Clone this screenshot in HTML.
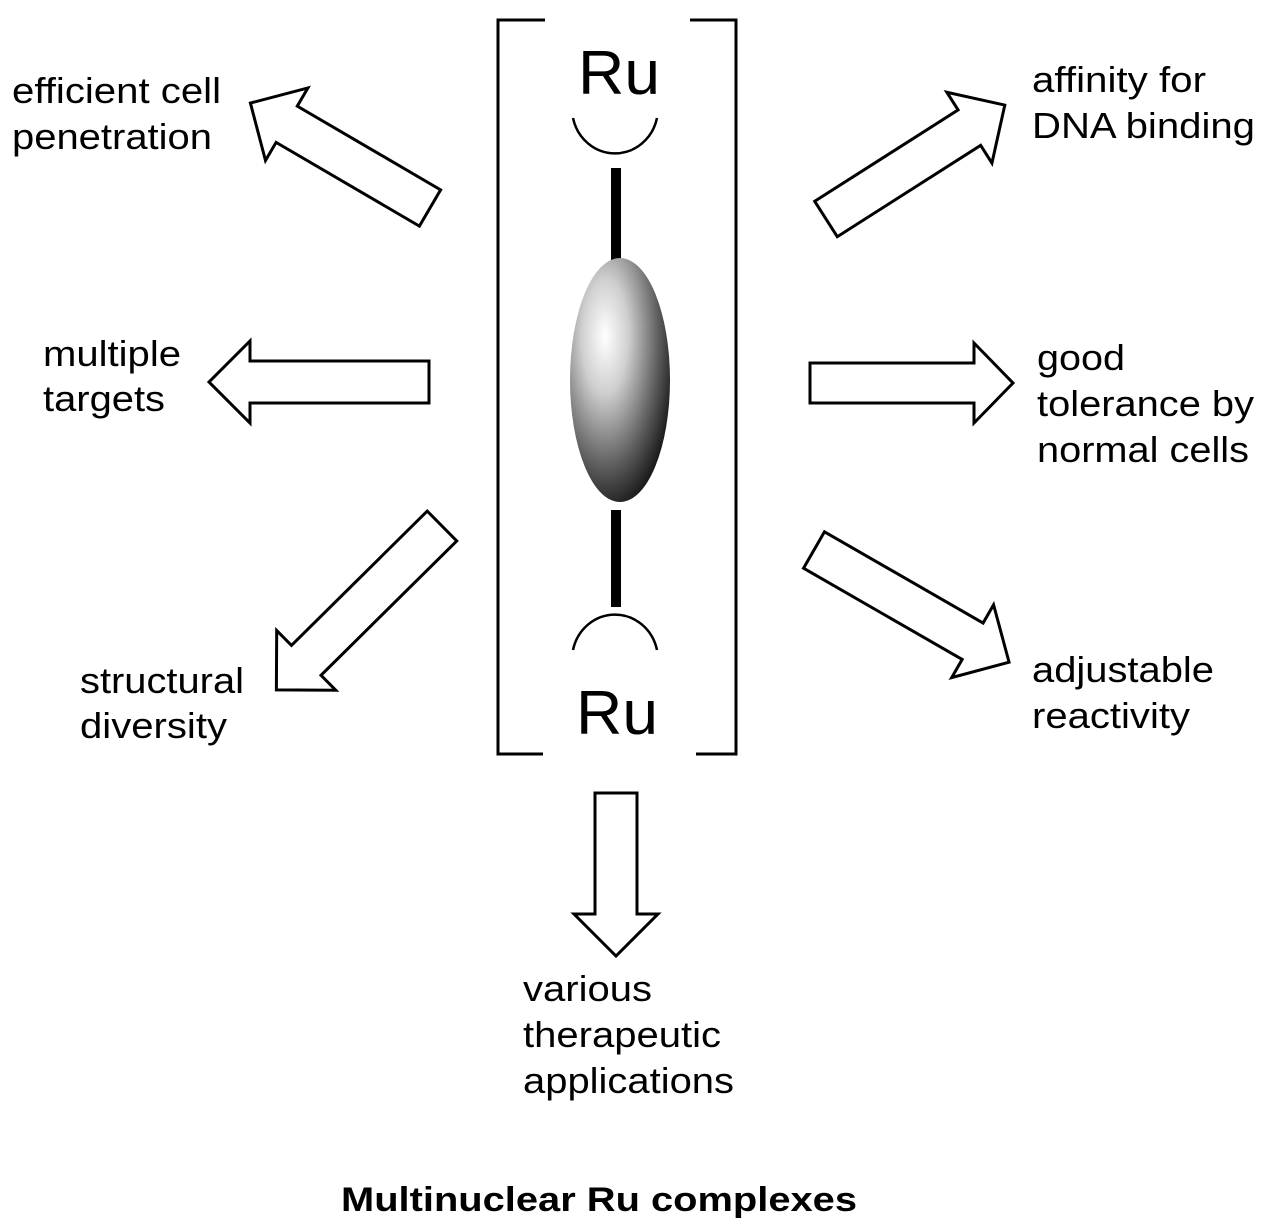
<!DOCTYPE html>
<html><head><meta charset="utf-8"><style>
html,body{margin:0;padding:0;background:#fff}
svg{display:block}
text{font-family:"Liberation Sans",Arial,sans-serif;fill:#000}
</style></head><body>
<svg width="1270" height="1228" viewBox="0 0 1270 1228" xmlns="http://www.w3.org/2000/svg">
<defs>
<radialGradient id="g" cx="0.35" cy="0.32" r="0.78">
<stop offset="0" stop-color="#ffffff"/>
<stop offset="0.3" stop-color="#cfcfcf"/>
<stop offset="0.7" stop-color="#5a5a5a"/>
<stop offset="1" stop-color="#080808"/>
</radialGradient>
</defs>
<g fill="none" stroke="#000" stroke-width="3">
<path d="M545,20 H498 V754 H543"/>
<path d="M690,20 H736 V754 H696"/>
</g>
<line x1="616" y1="168" x2="616" y2="268" stroke="#000" stroke-width="10"/>
<line x1="616" y1="510" x2="616" y2="607" stroke="#000" stroke-width="10"/>
<ellipse cx="620" cy="380" rx="50" ry="122" fill="url(#g)"/>
<path d="M573,118 A43,45 0 0 0 657,118" fill="none" stroke="#000" stroke-width="2.5"/>
<path d="M573,650 A43,45 0 0 1 657,650" fill="none" stroke="#000" stroke-width="2.5"/>
<text x="578" y="94" font-size="62" textLength="82" lengthAdjust="spacingAndGlyphs">Ru</text>
<text x="576" y="734" font-size="62" textLength="82" lengthAdjust="spacingAndGlyphs">Ru</text>
<g fill="#fff" stroke="#000" stroke-width="3" stroke-linejoin="miter">
<path transform="translate(430,208) rotate(210.3)" d="M0,-21 H166 V-42 L208,0 L166,42 V21 H0 Z"/>
<path transform="translate(429,382) rotate(180)" d="M0,-21 H179 V-41 L220,0 L179,41 V21 H0 Z"/>
<path transform="translate(442,526) rotate(135.3)" d="M0,-21 H191 V-42 L233,0 L191,42 V21 H0 Z"/>
<path transform="translate(616,793) rotate(90)" d="M0,-21 H121 V-42 L163,0 L121,42 V21 H0 Z"/>
<path transform="translate(814,550) rotate(29.9)" d="M0,-21 H183 V-42 L225,0 L183,42 V21 H0 Z"/>
<path transform="translate(810,383) rotate(0)" d="M0,-20 H164 V-40 L203,0 L164,40 V20 H0 Z"/>
<path transform="translate(826,219) rotate(-32.5)" d="M0,-21 H170 V-42 L212,0 L170,42 V21 H0 Z"/>
</g>
<g font-size="36" lengthAdjust="spacingAndGlyphs">
<text x="12" y="103" textLength="209" lengthAdjust="spacingAndGlyphs">efficient cell</text>
<text x="12" y="149" textLength="200" lengthAdjust="spacingAndGlyphs">penetration</text>
<text x="43" y="366" textLength="138" lengthAdjust="spacingAndGlyphs">multiple</text>
<text x="43" y="411" textLength="122" lengthAdjust="spacingAndGlyphs">targets</text>
<text x="80" y="693" textLength="164" lengthAdjust="spacingAndGlyphs">structural</text>
<text x="80" y="738" textLength="147" lengthAdjust="spacingAndGlyphs">diversity</text>
<text x="1032" y="92" textLength="174" lengthAdjust="spacingAndGlyphs">affinity for</text>
<text x="1032" y="138" textLength="223" lengthAdjust="spacingAndGlyphs">DNA binding</text>
<text x="1037" y="370" textLength="88" lengthAdjust="spacingAndGlyphs">good</text>
<text x="1037" y="416" textLength="217" lengthAdjust="spacingAndGlyphs">tolerance by</text>
<text x="1037" y="462" textLength="212" lengthAdjust="spacingAndGlyphs">normal cells</text>
<text x="1032" y="682" textLength="182" lengthAdjust="spacingAndGlyphs">adjustable</text>
<text x="1032" y="728" textLength="158" lengthAdjust="spacingAndGlyphs">reactivity</text>
<text x="523" y="1001" textLength="129" lengthAdjust="spacingAndGlyphs">various</text>
<text x="523" y="1047" textLength="198" lengthAdjust="spacingAndGlyphs">therapeutic</text>
<text x="523" y="1093" textLength="211" lengthAdjust="spacingAndGlyphs">applications</text>
</g>
<text x="341" y="1211" font-size="34" font-weight="bold" textLength="516" lengthAdjust="spacingAndGlyphs">Multinuclear Ru complexes</text>
</svg>
</body></html>
